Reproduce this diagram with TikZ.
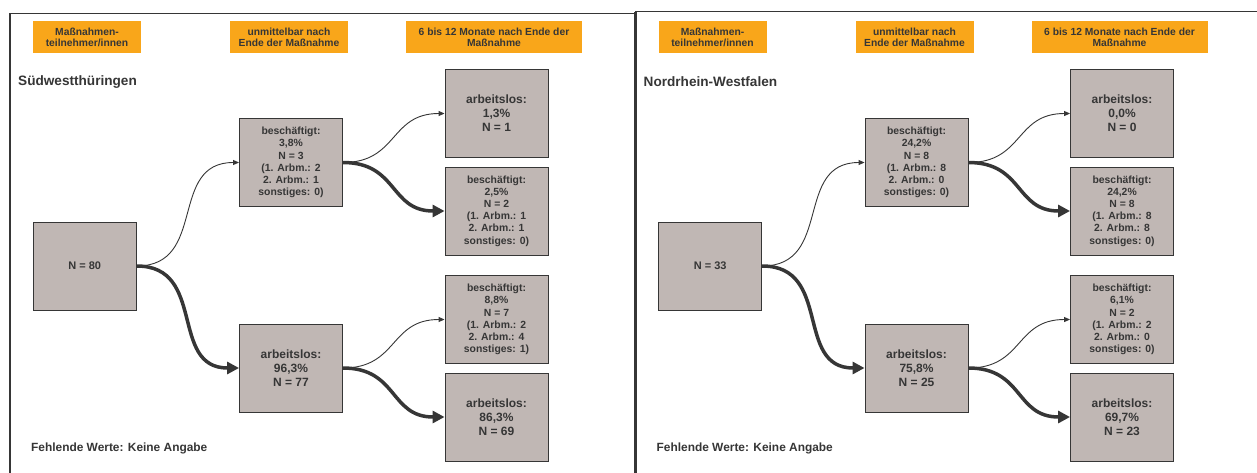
\documentclass[tikz,border=0pt]{standalone}
\usepackage{fontspec}
\setmainfont{Liberation Sans}
\usetikzlibrary{arrows.meta}
\definecolor{boxfill}{HTML}{C0B7B4}
\definecolor{orng}{HTML}{F9A61A}
\definecolor{ink}{HTML}{363636}
\tikzset{
  statebox/.style={draw=ink, line width=0.9pt, fill=boxfill, minimum width=103pt, minimum height=88pt, inner sep=0pt, align=center, text=ink, font=\bfseries\fontsize{10.4}{12.2}\selectfont},
  bigtext/.style={font=\bfseries\fontsize{12}{14}\selectfont},
  headbox/.style={fill=orng, inner sep=0pt, align=center, text=ink, font=\bfseries\fontsize{10.3}{11}\selectfont, minimum height=32pt},
  titletext/.style={anchor=west, inner sep=0pt, text=ink, font=\bfseries\fontsize{13.6}{15}\selectfont},
  notetext/.style={anchor=west, inner sep=0pt, text=ink, font=\bfseries\fontsize{11.9}{13}\selectfont},
  flow/.style={out=0, in=180, looseness=1.25},
  thinarrow/.style={draw=ink, line width=0.9pt, -{Triangle[length=6pt,width=5pt]}},
  thickarrow/.style={draw=ink, line width=3.5pt, -{Triangle[length=12pt,width=12pt]}},
  frame/.style={draw=ink, line width=1.6pt}
}
\begin{document}
\begin{tikzpicture}[x=1pt,y=-1pt]
\useasboundingbox (0,0) rectangle (1257,472);
\fill[white] (0,0) rectangle (1257,472);
% frames
\draw[frame] (10,480) -- (10,13.5) -- (635,13.5);
\draw[frame] (635,11.5) -- (1262,11.5);
\draw[ink, line width=3.5pt] (635.5,11.5) -- (635.5,480);

% ---------------- left panel ----------------
\node[headbox, minimum width=108pt] (Lh1) at (87,37) {Maßnahmen-\\teilnehmer/innen};
\node[headbox, minimum width=118pt] (Lh2) at (289,37) {unmittelbar nach\\Ende der Maßnahme};
\node[headbox, minimum width=176pt] (Lh3) at (494,37) {6 bis 12 Monate nach Ende der\\Maßnahme};
\node[titletext] (Ltitle) at (18,82) {Südwestthüringen};
\node[notetext] (Lnote) at (31,448) {Fehlende Werte: Keine Angabe};

\node[statebox, font=\bfseries\fontsize{11}{13}\selectfont] (LN) at (84.75,266) {N = 80};
\node[statebox] (Lm1) at (291,162.5) {beschäftigt:\\3,8\%\\N = 3\\(1. Arbm.: 2\\2. Arbm.: 1\\sonstiges: 0)};
\node[statebox, bigtext] (Lm2) at (291,368) {arbeitslos:\\96,3\%\\N = 77};
\node[statebox, bigtext] (Lr1) at (496.5,113.5) {arbeitslos:\\1,3\%\\N = 1};
\node[statebox] (Lr2) at (496.5,211) {beschäftigt:\\2,5\%\\N = 2\\(1. Arbm.: 1\\2. Arbm.: 1\\sonstiges: 0)};
\node[statebox] (Lr3) at (496.5,319.5) {beschäftigt:\\8,8\%\\N = 7\\(1. Arbm.: 2\\2. Arbm.: 4\\sonstiges: 1)};
\node[statebox, bigtext] (Lr4) at (496.5,417) {arbeitslos:\\86,3\%\\N = 69};

\draw[thinarrow] (LN.east) to[flow] (Lm1.west);
\draw[thickarrow] (LN.east) to[flow] (Lm2.west);
\draw[thinarrow] (Lm1.east) to[flow] (Lr1.west);
\draw[thickarrow] (Lm1.east) to[flow] (Lr2.west);
\draw[thinarrow] (Lm2.east) to[flow] (Lr3.west);
\draw[thickarrow] (Lm2.east) to[flow] (Lr4.west);

% ---------------- right panel ----------------
\begin{scope}[shift={(625.5,0)}]
\node[headbox, minimum width=108pt] (Rh1) at (87,37) {Maßnahmen-\\teilnehmer/innen};
\node[headbox, minimum width=118pt] (Rh2) at (289,37) {unmittelbar nach\\Ende der Maßnahme};
\node[headbox, minimum width=176pt] (Rh3) at (494,37) {6 bis 12 Monate nach Ende der\\Maßnahme};
\node[titletext] (Rtitle) at (18,82) {Nordrhein-Westfalen};
\node[notetext] (Rnote) at (31,448) {Fehlende Werte: Keine Angabe};

\node[statebox, font=\bfseries\fontsize{11}{13}\selectfont] (RN) at (84.75,266) {N = 33};
\node[statebox] (Rm1) at (291,162.5) {beschäftigt:\\24,2\%\\N = 8\\(1. Arbm.: 8\\2. Arbm.: 0\\sonstiges: 0)};
\node[statebox, bigtext] (Rm2) at (291,368) {arbeitslos:\\75,8\%\\N = 25};
\node[statebox, bigtext] (Rr1) at (496.5,113.5) {arbeitslos:\\0,0\%\\N = 0};
\node[statebox] (Rr2) at (496.5,211) {beschäftigt:\\24,2\%\\N = 8\\(1. Arbm.: 8\\2. Arbm.: 8\\sonstiges: 0)};
\node[statebox] (Rr3) at (496.5,319.5) {beschäftigt:\\6,1\%\\N = 2\\(1. Arbm.: 2\\2. Arbm.: 0\\sonstiges: 0)};
\node[statebox, bigtext] (Rr4) at (496.5,417) {arbeitslos:\\69,7\%\\N = 23};

\draw[thinarrow] (RN.east) to[flow] (Rm1.west);
\draw[thickarrow] (RN.east) to[flow] (Rm2.west);
\draw[thinarrow] (Rm1.east) to[flow] (Rr1.west);
\draw[thickarrow] (Rm1.east) to[flow] (Rr2.west);
\draw[thinarrow] (Rm2.east) to[flow] (Rr3.west);
\draw[thickarrow] (Rm2.east) to[flow] (Rr4.west);
\end{scope}
\end{tikzpicture}
\end{document}
